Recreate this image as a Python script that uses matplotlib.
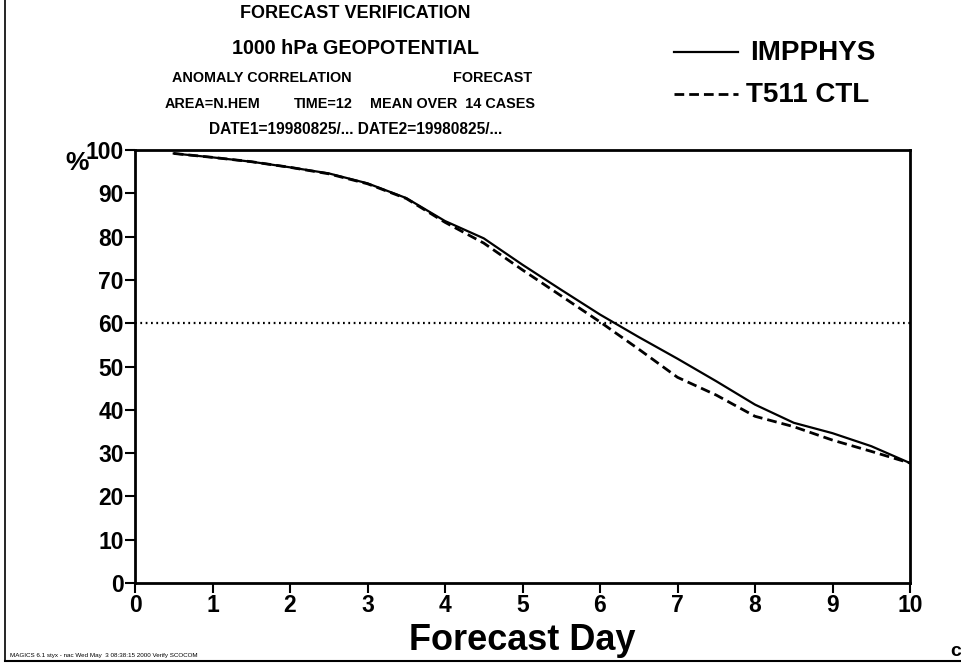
import matplotlib
matplotlib.use("Agg")
import matplotlib.pyplot as plt
from matplotlib.lines import Line2D

plt.rcParams['font.family'] = ['Liberation Sans', 'DejaVu Sans']

days = [0.5, 1, 1.5, 2, 2.5, 3, 3.5, 4, 4.5, 5, 5.5, 6, 6.5, 7, 7.5, 8, 8.5, 9, 9.5, 10]
impphys = [99.2, 98.3, 97.3, 96.0, 94.6, 92.3, 88.9, 83.6, 79.6, 73.5, 67.7, 62.0, 56.8, 51.8, 46.6, 41.2, 37.0, 34.6, 31.6, 27.7]
t511ctl = [99.2, 98.3, 97.3, 96.0, 94.5, 92.2, 88.8, 83.3, 78.5, 72.3, 66.3, 60.3, 54.0, 47.5, 43.4, 38.5, 36.1, 33.0, 30.4, 27.7]
ref_level = 60
xticks = list(range(0, 11))
yticks = list(range(0, 101, 10))
series_names = ["IMPPHYS", "T511 CTL"]

W, H = 961, 663
fig = plt.figure(figsize=(W / 100, H / 100), dpi=100)

def fx(px):
    return px / W

def fy(py):
    return 1 - py / H

ax = fig.add_axes([fx(135), fy(583), fx(910) - fx(135), fy(150) - fy(583)])
ax.plot(days, impphys, color='black', lw=1.6, solid_joinstyle='round')
ax.plot(days, t511ctl, color='black', lw=2.0, dashes=(3.5, 1.8))
ax.axhline(ref_level, color='black', lw=1.6, dashes=(0.8, 1.6))
ax.set_xlim(0, 10)
ax.set_ylim(0, 100)
ax.set_xticks(xticks)
ax.set_yticks(yticks)
ax.tick_params(axis='both', direction='out', length=7, width=1.5, labelsize=16.5, pad=1)
for lab in ax.get_xticklabels() + ax.get_yticklabels():
    lab.set_fontweight('bold')
for s in ax.spines.values():
    s.set_linewidth(2)

ax.set_xlabel("Forecast Day", fontsize=26, fontweight='bold', labelpad=4)
fig.text(fx(77), fy(163), "%", fontsize=19, fontweight='bold', ha='center', va='center')

# titles
fig.text(fx(355), fy(13), "FORECAST VERIFICATION", fontsize=13, fontweight='bold', ha='center', va='center')
fig.text(fx(355), fy(48), "1000 hPa GEOPOTENTIAL", fontsize=14.2, fontweight='bold', ha='center', va='center')
fig.text(fx(172), fy(78), "ANOMALY CORRELATION", fontsize=10.4, fontweight='bold', ha='left', va='center')
fig.text(fx(532), fy(78), "FORECAST", fontsize=10.4, fontweight='bold', ha='right', va='center')
fig.text(fx(165), fy(104), "AREA=N.HEM", fontsize=10.4, fontweight='bold', ha='left', va='center')
fig.text(fx(294), fy(104), "TIME=12", fontsize=10.4, fontweight='bold', ha='left', va='center')
fig.text(fx(535), fy(104), "MEAN OVER  14 CASES", fontsize=10.4, fontweight='bold', ha='right', va='center')
fig.text(fx(356), fy(130), "DATE1=19980825/... DATE2=19980825/...", fontsize=11.2, fontweight='bold', ha='center', va='center')

# legend
fig.add_artist(Line2D([fx(674), fx(738)], [fy(52), fy(52)], color='black', lw=1.6))
fig.add_artist(Line2D([fx(674), fx(738)], [fy(94), fy(94)], color='black', lw=2.0, dashes=(3.5, 1.8)))
fig.text(fx(750), fy(53), series_names[0], fontsize=20, fontweight='bold', ha='left', va='center')
fig.text(fx(746), fy(95), series_names[1], fontsize=20, fontweight='bold', ha='left', va='center')

# footer
fig.text(fx(10), fy(655), "MAGICS 6.1 styx - nac Wed May  3 08:38:15 2000 Verify SCOCOM", fontsize=4.5, ha='left', va='center')
fig.text(fx(950), fy(652), "c", fontsize=14, fontweight='bold', ha='left', va='center')

# page border
fig.add_artist(Line2D([fx(5), fx(5)], [fy(0), fy(661)], color='black', lw=1.2))
fig.add_artist(Line2D([fx(5), fx(961)], [fy(661), fy(661)], color='black', lw=1.5))

fig.savefig("out.png", dpi=100)
